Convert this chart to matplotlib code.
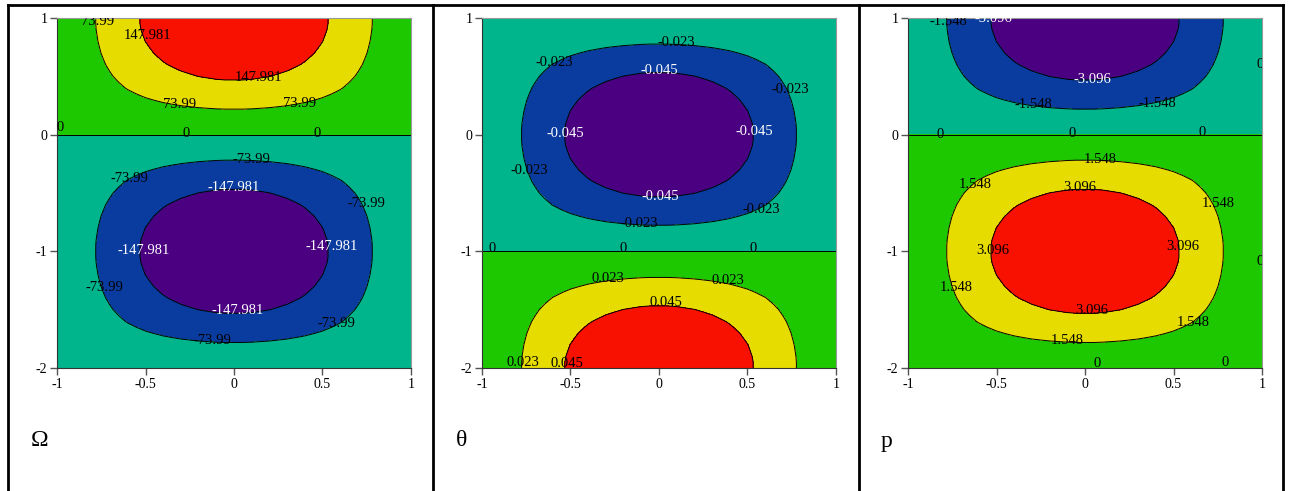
import numpy as np
import matplotlib
matplotlib.use('Agg')
from matplotlib import pyplot as plt
from matplotlib.lines import Line2D

plt.rcParams['font.family'] = ['Liberation Serif', 'DejaVu Serif']

# grid of the solution (x across, y up)
x_nodes = np.round(np.arange(-1, 1.0001, 0.05), 2)
y_nodes = np.round(np.arange(-2, 1.0001, 0.05), 2)

# shape of the cells across x
x_shape = [0.02, 0.08, 0.16, 0.23, 0.31, 0.38, 0.45, 0.52, 0.59, 0.65,
           0.71, 0.76, 0.81, 0.85, 0.89, 0.92, 0.95, 0.97, 0.99, 1.00,
           1.00,
           1.00, 0.99, 0.97, 0.95, 0.92, 0.89, 0.85, 0.81, 0.76, 0.71,
           0.65, 0.59, 0.52, 0.45, 0.38, 0.31, 0.23, 0.16, 0.08, 0.02]

# shape along y: odd mode (zero at y=0) and even mode (zero at y=-1)
y_odd = [-0.02, -0.08, -0.16, -0.23, -0.31, -0.38, -0.45, -0.52, -0.59, -0.65,
         -0.71, -0.76, -0.81, -0.85, -0.89, -0.92, -0.95, -0.97, -0.99, -1.00,
         -1.00, -1.00, -0.99, -0.97, -0.95, -0.92, -0.89, -0.85, -0.81, -0.76,
         -0.71, -0.65, -0.59, -0.52, -0.45, -0.38, -0.31, -0.23, -0.16, -0.08,
         0.00,
         0.08, 0.16, 0.23, 0.31, 0.38, 0.45, 0.52, 0.59, 0.65,
         0.71, 0.76, 0.81, 0.85, 0.89, 0.92, 0.95, 0.97, 0.99, 1.00, 1.00]
y_even = [-1.00, -1.00, -0.99, -0.97, -0.95, -0.92, -0.89, -0.85, -0.81, -0.76,
          -0.71, -0.65, -0.59, -0.52, -0.45, -0.38, -0.31, -0.23, -0.16, -0.08,
          0.00, 0.08, 0.16, 0.23, 0.31, 0.38, 0.45, 0.52, 0.59, 0.65,
          0.71, 0.76, 0.81, 0.85, 0.89, 0.92, 0.95, 0.97, 0.99, 1.00,
          1.00,
          1.00, 0.99, 0.97, 0.95, 0.92, 0.89, 0.85, 0.81, 0.76,
          0.71, 0.65, 0.59, 0.52, 0.45, 0.38, 0.31, 0.23, 0.16, 0.08, 0.02]

omega_amp = 220.0
theta_amp = -0.067
p_amp = -4.6

omega_levels = [-147.981, -73.99, 0, 73.99, 147.981]
theta_levels = [-0.045, -0.023, 0, 0.023, 0.045]
p_levels = [-3.096, -1.548, 0, 1.548, 3.096]

panel_names = ['\u03a9', '\u03b8', 'p']

# contour labels: (x, y, level index)
omega_labels = [(-0.77, 0.97, 3), (-0.49, 0.85, 4), (0.14, 0.49, 4), (-0.31, 0.26, 3),
                (0.37, 0.27, 3), (-0.98, 0.06, 2), (-0.27, 0.01, 2), (0.47, 0.01, 2),
                (0.10, -0.21, 1), (-0.59, -0.38, 1), (0.0, -0.45, 0), (0.75, -0.59, 1),
                (-0.51, -0.99, 0), (0.55, -0.96, 0), (-0.73, -1.31, 1), (0.02, -1.51, 0),
                (0.58, -1.62, 1), (-0.12, -1.76, 1)]
theta_labels = [(0.10, 0.79, 1), (-0.59, 0.62, 1), (0.0, 0.55, 0), (0.74, 0.39, 1),
                (-0.53, 0.01, 0), (0.54, 0.03, 0), (-0.73, -0.31, 1), (0.01, -0.53, 0),
                (0.58, -0.64, 1), (-0.11, -0.76, 1), (-0.94, -0.98, 2), (-0.20, -0.98, 2),
                (0.53, -0.98, 2), (-0.29, -1.23, 3), (0.39, -1.25, 3), (0.04, -1.44, 4),
                (-0.77, -1.95, 3), (-0.52, -1.96, 4)]
p_labels = [(-0.77, 0.97, 1), (-0.52, 1.0, 0), (0.04, 0.47, 0), (-0.29, 0.26, 1),
            (0.41, 0.27, 1), (0.99, 0.6, 2), (-0.82, 0.0, 2), (-0.07, 0.01, 2),
            (0.66, 0.02, 2), (0.085, -0.21, 3), (-0.62, -0.43, 3), (-0.03, -0.45, 4),
            (0.75, -0.59, 3), (-0.52, -0.99, 4), (0.55, -0.96, 4), (0.99, -1.09, 2),
            (-0.73, -1.31, 3), (0.04, -1.51, 4), (0.61, -1.61, 3), (-0.10, -1.76, 3),
            (0.07, -1.96, 2), (0.79, -1.95, 2)]

band_colors = ['#4b0082', '#0a3ca0', '#00b48c', '#1ec800', '#e6dc00', '#f81000']

x_ticks = [-1, -0.5, 0, 0.5, 1]
x_tick_labels = ['-1', '-0.5', '0', '0.5', '1']
y_ticks = [-2, -1, 0, 1]
y_tick_labels = ['-2', '-1', '0', '1']

X, Y = np.meshgrid(x_nodes, y_nodes)
shape_x = np.array(x_shape)
fields = [omega_amp * np.outer(y_odd, shape_x),
          theta_amp * np.outer(y_even, shape_x),
          p_amp * np.outer(y_odd, shape_x)]
levels_all = [omega_levels, theta_levels, p_levels]
labels_all = [omega_labels, theta_labels, p_labels]

W, H = 1291, 491
fig = plt.figure(figsize=(W / 100, H / 100), dpi=100)

# table frame around the three cells
for xp in [8, 433, 859, 1283]:
    fig.add_artist(Line2D([xp / W, xp / W], [0, 1 - 5 / H], color='k', lw=2.0))
fig.add_artist(Line2D([8 / W, 1283 / W], [1 - 5 / H, 1 - 5 / H], color='k', lw=2.0))

ax_left = [57, 482, 908]
name_pos = [(40, 440), (462, 440), (887, 442)]

for i in range(3):
    ax = fig.add_axes([ax_left[i] / W, (H - 368) / H, 354 / W, 350 / H])
    Z = fields[i]
    lv = levels_all[i]
    big = np.abs(Z).max() * 3
    ax.contourf(X, Y, Z, levels=[-big] + lv + [big], colors=band_colors)
    ax.contour(X, Y, Z, levels=lv, colors='k', linewidths=0.7,
               linestyles='solid')
    for (lx, ly, k) in labels_all[i]:
        col = 'white' if k == 0 else 'black'
        ax.text(lx, ly, '{:g}'.format(lv[k]), color=col, fontsize=10.5,
                ha='center', va='center', clip_on=True)
    ax.set_xlim(-1, 1)
    ax.set_ylim(-2, 1)
    ax.set_xticks(x_ticks)
    ax.set_xticklabels(x_tick_labels)
    ax.set_yticks(y_ticks)
    ax.set_yticklabels(y_tick_labels)
    ax.tick_params(length=5, width=1, color='#555555', labelsize=10, pad=2)
    for s in ['top', 'right']:
        ax.spines[s].set_color('#999999')
    for s in ['left', 'bottom']:
        ax.spines[s].set_color('#333333')
    fig.text(name_pos[i][0] / W, 1 - name_pos[i][1] / H, panel_names[i],
             fontsize=17, ha='center', va='center')

fig.savefig('out.png', dpi=100)
